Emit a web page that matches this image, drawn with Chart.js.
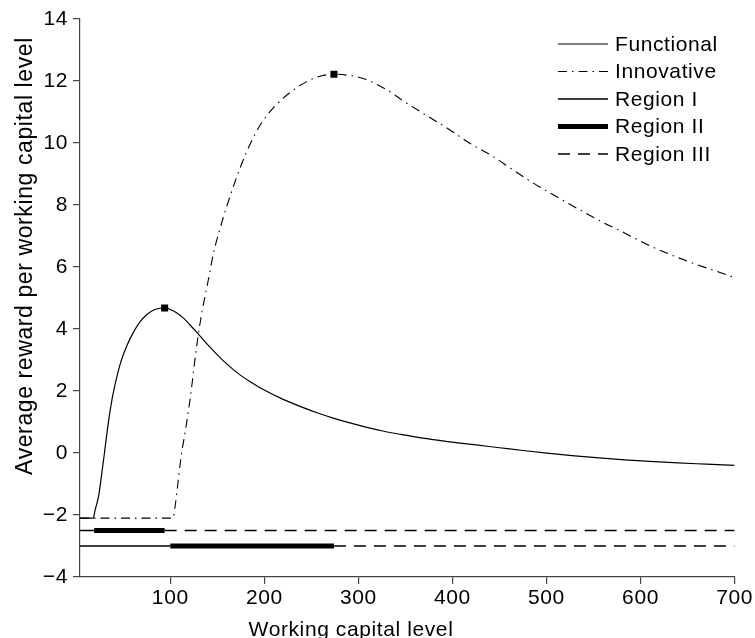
<!DOCTYPE html>
<html>
<head>
<meta charset="utf-8">
<script src="https://cdn.jsdelivr.net/npm/chart.js@4.4.1/dist/chart.umd.min.js"></script>
<style>
  html, body { margin: 0; padding: 0; background: #fff; }
  #chart { display: block; }
</style>
</head>
<body>
<canvas id="chart" width="755" height="638"></canvas>
<script>
// Average reward per unit of working capital, functional product
var functionalX = [4, 18, 20, 23.7, 27, 30, 34, 38, 42, 47, 53, 60, 67, 75, 83, 89, 94, 100, 107, 114, 121, 128, 138, 149, 158, 167, 176, 185, 200, 220, 240, 256, 275, 291, 310, 326, 345, 362, 380, 397, 425, 450, 475, 503, 530, 556, 583, 610, 640, 670, 700];
var functionalY = [-2.1, -2.1, -1.85, -1.4, -0.7, 0, 0.95, 1.72, 2.3, 2.9, 3.4, 3.85, 4.2, 4.47, 4.62, 4.67, 4.68, 4.63, 4.52, 4.35, 4.13, 3.9, 3.55, 3.2, 2.93, 2.69, 2.48, 2.3, 2.03, 1.73, 1.48, 1.3, 1.11, 0.97, 0.82, 0.71, 0.6, 0.51, 0.43, 0.36, 0.26, 0.17, 0.08, -0.01, -0.09, -0.16, -0.22, -0.27, -0.32, -0.36, -0.4];

// same for the innovative product
var innovativeX = [4, 103, 105, 108, 112, 114, 121, 128, 133.5, 140.5, 146, 153, 160, 170, 181, 195, 210, 227, 245, 260, 274, 290, 305, 330, 351, 374, 397, 418, 443, 464, 487, 510, 535, 558, 583, 606, 631, 655, 680, 700];
var innovativeY = [-2.1, -2.1, -1.75, -1.0, 0, 0.35, 1.72, 3.44, 4.52, 5.59, 6.45, 7.25, 7.95, 8.85, 9.7, 10.55, 11.15, 11.62, 11.98, 12.16, 12.22, 12.18, 12.08, 11.72, 11.29, 10.86, 10.43, 10.0, 9.57, 9.14, 8.69, 8.28, 7.85, 7.47, 7.1, 6.74, 6.41, 6.13, 5.87, 5.66];

// region boundaries on the working capital axis: I | II | III
var functionalBreaks = [4, 19, 94, 700];
var innovativeBreaks = [4, 100, 274, 700];
var functionalRow = -2.5;
var innovativeRow = -3;

var xTicks = [100, 200, 300, 400, 500, 600, 700];
var yTicks = [-4, -2, 0, 2, 4, 6, 8, 10, 12, 14];
var legendLabels = ['Functional', 'Innovative', 'Region I', 'Region II', 'Region III'];
var xTitle = 'Working capital level';
var yTitle = 'Average reward per working capital level';

var FONT = '"Liberation Sans", Arial, Helvetica, sans-serif';
var AXIS = '#444';

function toPoints(xs, ys) {
  return xs.map(function (x, i) { return {x: x, y: ys[i]}; });
}

function peakOf(xs, ys) {
  var k = 0;
  ys.forEach(function (y, i) { if (y > ys[k]) k = i; });
  return {x: xs[k], y: ys[k]};
}

// one dataset per region, the two rows split by a gap
function regionPoints(k) {
  return [
    {x: functionalBreaks[k], y: functionalRow},
    {x: functionalBreaks[k + 1], y: functionalRow},
    {x: functionalBreaks[k + 1], y: null},
    {x: innovativeBreaks[k], y: innovativeRow},
    {x: innovativeBreaks[k + 1], y: innovativeRow}
  ];
}

function lineSet(label, data, width, dash) {
  return {
    label: label,
    data: data,
    borderColor: '#000',
    borderWidth: width,
    borderDash: dash,
    pointRadius: 0,
    fill: false,
    spanGaps: false,
    cubicInterpolationMode: 'monotone'
  };
}

var datasets = [
  lineSet('Functional', toPoints(functionalX, functionalY), 1.2, []),
  lineSet('Innovative', toPoints(innovativeX, innovativeY), 1.1, [9, 5, 1.5, 5]),
  lineSet('Region I', regionPoints(0), 1.3, []),
  lineSet('Region II', regionPoints(1), 5, []),
  lineSet('Region III', regionPoints(2), 1.5, [12, 8]),
  {
    label: 'peaks',
    data: [peakOf(functionalX, functionalY), peakOf(innovativeX, innovativeY)],
    showLine: false,
    pointStyle: 'rect',
    pointRadius: 5,
    pointBackgroundColor: '#000',
    pointBorderColor: '#000',
    pointBorderWidth: 0
  }
];

// slightly wider text, like the rest of the figure
var spacing = {
  id: 'spacing',
  beforeUpdate: function (chart) { chart.ctx.letterSpacing = '0.6px'; },
  beforeDraw: function (chart) { chart.ctx.letterSpacing = '0.6px'; }
};

var annotate = {
  id: 'annotate',
  afterDraw: function (chart) {
    var ctx = chart.ctx;
    ctx.save();
    ctx.fillStyle = '#000';

    // legend in the upper right corner
    ctx.font = '21px ' + FONT;
    ctx.textAlign = 'left';
    ctx.textBaseline = 'middle';
    legendLabels.forEach(function (text, i) {
      var ds = chart.data.datasets[i];
      var y = 44 + i * 27.5;
      ctx.lineWidth = ds.borderWidth;
      ctx.strokeStyle = ds.borderColor;
      ctx.setLineDash(ds.borderDash || []);
      ctx.beginPath();
      ctx.moveTo(558, y);
      ctx.lineTo(608, y);
      ctx.stroke();
      ctx.fillText(text, 615, y + 1);
    });
    ctx.setLineDash([]);

    // axis titles
    ctx.textAlign = 'center';
    ctx.textBaseline = 'alphabetic';
    ctx.fillText(xTitle, 351, 636);

    ctx.translate(32, 256);
    ctx.rotate(-Math.PI / 2);
    ctx.font = '23px ' + FONT;
    ctx.fillText(yTitle, 0, 0);
    ctx.restore();
  }
};

var minus = function (v) { return String(v).replace('-', '\u2212'); };

new Chart(document.getElementById('chart').getContext('2d'), {
  type: 'line',
  data: { datasets: datasets },
  options: {
    responsive: false,
    animation: false,
    events: [],
    layout: { padding: { top: 19, right: 20, left: 0, bottom: 0 } },
    plugins: {
      legend: { display: false },
      tooltip: { enabled: false },
      title: { display: false }
    },
    scales: {
      x: {
        type: 'linear',
        min: 4,
        max: 700,
        afterBuildTicks: function (s) { s.ticks = xTicks.map(function (v) { return {value: v}; }); },
        afterFit: function (s) { s.height = 61; },
        border: { color: AXIS, width: 1.2 },
        grid: { drawOnChartArea: false, tickLength: 7, color: AXIS, lineWidth: 1.2 },
        ticks: { color: '#000', padding: 2, maxRotation: 0, font: { family: FONT, size: 21 }, callback: minus }
      },
      y: {
        type: 'linear',
        min: -4,
        max: 14,
        afterBuildTicks: function (s) { s.ticks = yTicks.map(function (v) { return {value: v}; }); },
        afterFit: function (s) { s.width = 80; },
        border: { color: AXIS, width: 1.2 },
        grid: { drawOnChartArea: false, tickLength: 7, color: AXIS, lineWidth: 1.2 },
        ticks: { color: '#000', padding: 5, font: { family: FONT, size: 21 }, callback: minus }
      }
    }
  },
  plugins: [spacing, annotate]
});
</script>
</body>
</html>
